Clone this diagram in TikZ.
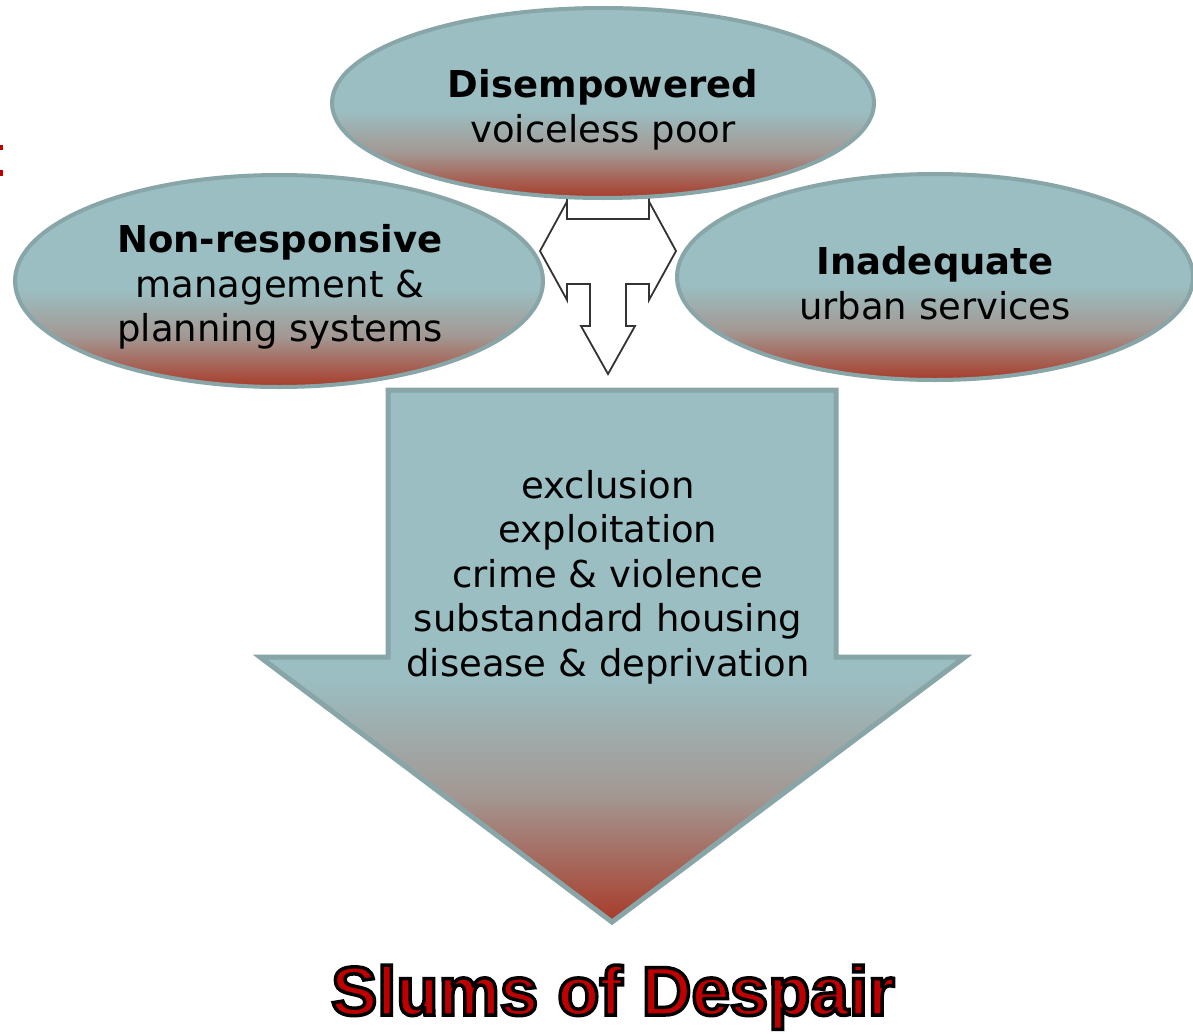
\documentclass[tikz,border=0pt]{standalone}
\usepackage{fontspec}
\setmainfont{DejaVu Sans}
\newfontfamily\titlefont{Liberation Sans}
\usetikzlibrary{shapes.geometric}
\definecolor{tealc}{HTML}{9BBEC2}
\definecolor{midc}{HTML}{A39893}
\definecolor{redc}{HTML}{A83C2A}
\definecolor{edgec}{HTML}{88A5A7}
\definecolor{titlered}{HTML}{C00000}
\definecolor{arrowline}{HTML}{333333}
\pgfdeclareverticalshading{slumshade}{100bp}{color(0bp)=(redc); color(25bp)=(redc); color(37bp)=(midc); color(48bp)=(tealc); color(100bp)=(tealc)}
\begin{document}
\begin{tikzpicture}[x=1pt,y=-1pt,
  ell/.style={ellipse, shading=slumshade, draw=edgec, line width=4pt, inner sep=0pt},
  bigarrow/.style={shading=slumshade, draw=edgec, line width=5pt, line join=miter},
  smallarrow/.style={draw=arrowline, line width=1.8pt, fill=white, line join=miter},
  lbl/.style={align=center, inner sep=0pt, font=\fontsize{37}{44.5}\selectfont},
  titletxt/.style={inner sep=0pt, text=titlered, font=\titlefont\bfseries\fontsize{69}{80}\selectfont}]
\useasboundingbox (0,0) rectangle (1193,1033);
\fill[white] (0,0) rectangle (1193,1033);
% stray red marks at the left edge
\fill[titlered] (0,145) rectangle (3,150);
\fill[titlered] (0,170) rectangle (3,176);
% small double/down arrow
\coordinate (sa1) at (570,196);
\coordinate (sa2) at (646,196);
\draw[smallarrow] (sa1) -- (540,251) -- (567,300) -- (567,284) -- (590,284) -- (590,326) -- (581,326) -- (608,374) -- (635,326) -- (626,326) -- (626,284) -- (649,284) -- (649,300) -- (676,251) -- (sa2);
\draw[smallarrow] (567,196) -- (567,219) -- (649,219) -- (649,196);
% big arrow
\draw[bigarrow] (388,390) -- (836,390) -- (836,657) -- (965,657) -- (612,922) -- (260,657) -- (388,657) -- cycle;
% ellipses
\node[ell, minimum width=542pt, minimum height=190pt] (top) at (603,103) {};
\node[ell, minimum width=528pt, minimum height=212pt] (left) at (279,281) {};
\node[ell, minimum width=516pt, minimum height=206pt] (right) at (935,277) {};
% texts
\node[lbl] (toptxt) at (603,110) {\textbf{Disempowered}\\voiceless poor};
\node[lbl] (lefttxt) at (280,287) {\textbf{Non-responsive}\\management \&\\planning systems};
\node[lbl] (righttxt) at (935,283) {\textbf{Inadequate}\\urban services};
\node[lbl] (arrowtxt) at (608,577) {exclusion\\exploitation\\crime \& violence\\substandard housing\\disease \& deprivation};
\node[titletxt, anchor=base] (title) at (613,1015) {\special{pdf:literal direct 0 0 0 RG 3.5 w 2 Tr}Slums of Despair\special{pdf:literal direct 0 Tr}};
\end{tikzpicture}
\end{document}
